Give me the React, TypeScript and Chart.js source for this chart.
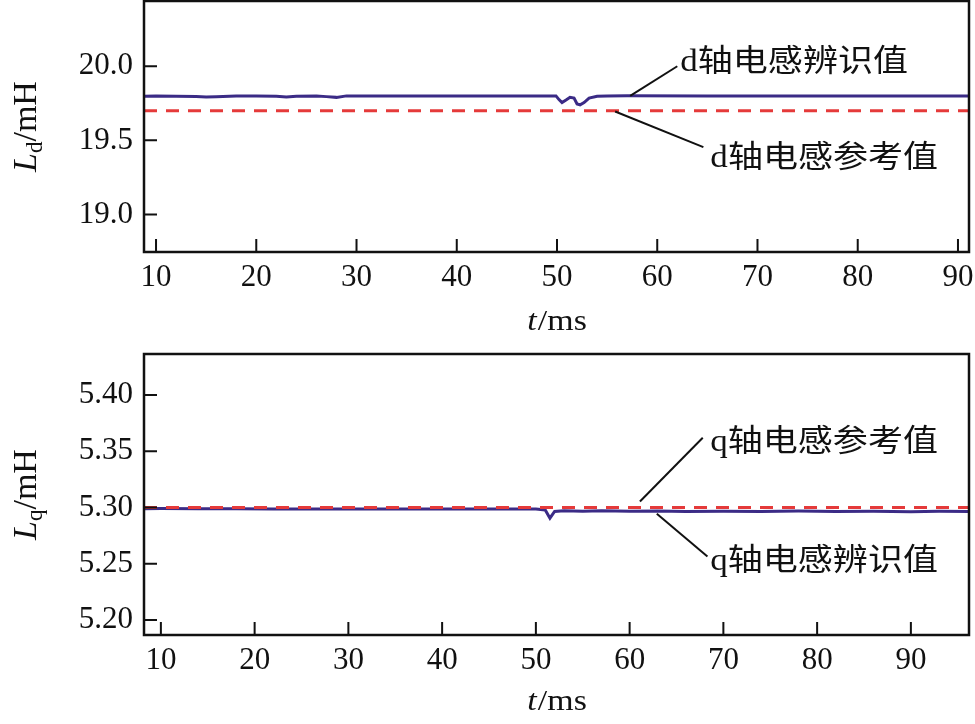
import React, { useEffect, useRef } from "react";
import { Chart, registerables } from "chart.js";

Chart.register(...registerables);

const SERIF = '"Liberation Serif", "Times New Roman", serif';
const MIXED = '"Liberation Serif", "Noto Sans CJK SC", serif';

// ---------- data (top: Ld) ----------
const ldTime = [8.8, 10, 12, 14, 15, 16, 18, 20, 22, 23, 24, 26, 27, 28, 29, 32, 40, 49.9, 50.2, 50.5, 50.9, 51.3, 51.7, 52.0, 52.3, 52.7, 53.2, 54.0, 55, 57, 65, 80, 91.1];
const ldIdent = [19.798, 19.8, 19.797, 19.796, 19.793, 19.795, 19.8, 19.8, 19.797, 19.793, 19.798, 19.799, 19.795, 19.79, 19.8, 19.8, 19.8, 19.8, 19.775, 19.755, 19.772, 19.79, 19.785, 19.745, 19.74, 19.755, 19.785, 19.798, 19.8, 19.801, 19.8, 19.8, 19.8];
const ldRefTime = [8.8, 91.1];
const ldRef = [19.7, 19.7];
const ldXRange = [8.8, 91.1];
const ldYRange = [18.747, 20.44];
const ldYTicks = [19.0, 19.5, 20.0];

// ---------- data (bottom: Lq) ----------
const lqTime = [8.2, 10, 14, 18, 22, 26, 30, 35, 40, 45, 50, 51, 51.5, 52, 53, 55, 57, 60, 63, 66, 70, 74, 78, 82, 86, 90, 93, 96.2];
const lqIdent = [5.2988, 5.299, 5.2989, 5.2988, 5.2986, 5.2987, 5.2986, 5.2987, 5.2986, 5.2987, 5.2987, 5.2978, 5.2905, 5.2965, 5.2972, 5.2967, 5.297, 5.2966, 5.2969, 5.2965, 5.2967, 5.2964, 5.2968, 5.2965, 5.2967, 5.2963, 5.2966, 5.2964];
const lqRefTime = [8.2, 96.2];
const lqRef = [5.3, 5.3];
const lqXRange = [8.2, 96.2];
const lqYRange = [5.1867, 5.4364];
const lqYTicks = [5.2, 5.25, 5.3, 5.35, 5.4];

const xTicks = [10, 20, 30, 40, 50, 60, 70, 80, 90];

// annotation anchors in data coordinates
const ldNotes = [
  { text: "d轴电感辨识值", from: [57.3, 19.8], to: [62.0, 20.0], at: [62.3, 20.02] },
  { text: "d轴电感参考值", from: [55.8, 19.695], to: [64.6, 19.454], at: [65.3, 19.378] },
];
const lqNotes = [
  { text: "q轴电感参考值", from: [61.1, 5.3053], to: [67.8, 5.362], at: [68.6, 5.3575] },
  { text: "q轴电感辨识值", from: [62.9, 5.2944], to: [68.3, 5.2564], at: [68.6, 5.252] },
];

const NAVY = "#3b2b86";
const RED = "#e53a3a";
const STRETCH = 1.13;

const decoPlugin = {
  id: "deco",
  afterDraw(chart: any, _args: any, o: any) {
    const { ctx, chartArea: a, scales } = chart;
    const xs = scales.x;
    const ys = scales.y;
    ctx.save();
    // frame
    ctx.strokeStyle = "#111";
    ctx.lineWidth = 2.5;
    ctx.strokeRect(a.left, a.top, a.right - a.left, a.bottom - a.top);
    // inward ticks
    ctx.lineWidth = 2;
    ctx.beginPath();
    xs.ticks.forEach((t: any) => {
      const p = xs.getPixelForValue(t.value);
      ctx.moveTo(p, a.bottom);
      ctx.lineTo(p, a.bottom - 13);
    });
    ys.ticks.forEach((t: any) => {
      const p = ys.getPixelForValue(t.value);
      ctx.moveTo(a.left, p);
      ctx.lineTo(a.left + 13, p);
    });
    ctx.stroke();

    ctx.fillStyle = "#111";
    // x title: t/ms
    {
      ctx.textBaseline = "middle";
      ctx.textAlign = "left";
      const f1 = `italic 30px ${SERIF}`;
      const f2 = `30px ${SERIF}`;
      ctx.font = f1;
      const w1 = ctx.measureText("t").width;
      ctx.font = f2;
      const w2 = ctx.measureText("/ms").width;
      const total = (w1 + w2) * STRETCH;
      const cx = (a.left + a.right) / 2;
      const y = a.bottom + o.xTitleOffset;
      ctx.save();
      ctx.translate(cx - total / 2, y);
      ctx.scale(STRETCH, 1);
      ctx.font = f1;
      ctx.fillText("t", 0, 0);
      ctx.font = f2;
      ctx.fillText("/ms", w1 + 1, 0);
      ctx.restore();
    }
    // y title: L_sub/mH
    {
      const fL = `italic 34px ${SERIF}`;
      const fS = `23px ${SERIF}`;
      const fR = `34px ${SERIF}`;
      ctx.font = fL;
      const wL = ctx.measureText("L").width;
      ctx.font = fS;
      const wS = ctx.measureText(o.sub).width;
      ctx.font = fR;
      const wR = ctx.measureText("/mH").width;
      const total = wL + wS + wR;
      const cy = (a.top + a.bottom) / 2;
      ctx.save();
      ctx.translate(o.yTitleX, cy);
      ctx.rotate(-Math.PI / 2);
      ctx.textBaseline = "alphabetic";
      ctx.textAlign = "left";
      let x = -total / 2;
      ctx.font = fL;
      ctx.fillText("L", x, 0);
      x += wL;
      ctx.font = fS;
      ctx.fillText(o.sub, x, 6);
      x += wS;
      ctx.font = fR;
      ctx.fillText("/mH", x, 0);
      ctx.restore();
    }
    // annotations
    ctx.lineWidth = 2;
    ctx.strokeStyle = "#111";
    (o.notes || []).forEach((n: any) => {
      const x1 = xs.getPixelForValue(n.from[0]);
      const y1 = ys.getPixelForValue(n.from[1]);
      const x2 = xs.getPixelForValue(n.to[0]);
      const y2 = ys.getPixelForValue(n.to[1]);
      ctx.beginPath();
      ctx.moveTo(x1, y1);
      ctx.lineTo(x2, y2);
      ctx.stroke();
      const tx = xs.getPixelForValue(n.at[0]);
      const ty = ys.getPixelForValue(n.at[1]);
      ctx.save();
      ctx.translate(tx, ty);
      ctx.scale(STRETCH, 1);
      ctx.font = `31px ${MIXED}`;
      ctx.textBaseline = "middle";
      ctx.textAlign = "left";
      ctx.fillText(n.text, 0, 0);
      ctx.restore();
    });
    ctx.restore();
  },
};

function makeConfig(p: any) {
  return {
    type: "line",
    data: {
      datasets: [
        {
          data: p.refT.map((t: number, i: number) => ({ x: t, y: p.ref[i] })),
          borderColor: RED,
          borderWidth: 3,
          borderDash: [13, 9],
          pointRadius: 0,
          tension: 0,
          fill: false,
        },
        {
          data: p.t.map((t: number, i: number) => ({ x: t, y: p.v[i] })),
          borderColor: NAVY,
          borderWidth: 3,
          pointRadius: 0,
          tension: 0,
          fill: false,
        },
      ],
    },
    options: {
      animation: false,
      responsive: false,
      events: [],
      layout: { autoPadding: false, padding: p.padding },
      plugins: {
        legend: { display: false },
        tooltip: { enabled: false },
        deco: {
          notes: p.notes,
          sub: p.sub,
          xTitleOffset: p.xTitleOffset,
          yTitleX: p.yTitleX,
        },
      },
      scales: {
        x: {
          type: "linear",
          min: p.xRange[0],
          max: p.xRange[1],
          border: { display: false },
          grid: { display: false, drawTicks: false },
          afterBuildTicks: (s: any) => {
            s.ticks = xTicks.map((v) => ({ value: v }));
          },
          afterFit: (s: any) => {
            s.height = 50;
            s.paddingLeft = 0;
            s.paddingRight = 0;
            s.paddingTop = 0;
            s.paddingBottom = 0;
          },
          ticks: {
            autoSkip: false,
            maxRotation: 0,
            padding: 7,
            color: "#111",
            font: { family: SERIF, size: 31 },
            callback: (v: number) => String(v),
          },
        },
        y: {
          type: "linear",
          min: p.yRange[0],
          max: p.yRange[1],
          border: { display: false },
          grid: { display: false, drawTicks: false },
          afterBuildTicks: (s: any) => {
            s.ticks = p.yTicks.map((v: number) => ({ value: v }));
          },
          afterFit: (s: any) => {
            s.width = 144;
            s.paddingLeft = 0;
            s.paddingRight = 0;
            s.paddingTop = 0;
            s.paddingBottom = 0;
          },
          ticks: {
            padding: 11,
            color: "#111",
            font: { family: SERIF, size: 31 },
            callback: (v: number) => Number(v).toFixed(p.decimals),
          },
        },
      },
    },
    plugins: [decoPlugin],
  } as any;
}

function Panel(props: { cfg: any; top: number; height: number }) {
  const ref = useRef<HTMLCanvasElement>(null);
  useEffect(() => {
    const c = new Chart(ref.current as HTMLCanvasElement, makeConfig(props.cfg));
    return () => c.destroy();
  }, []);
  return (
    <canvas
      ref={ref}
      width={975}
      height={props.height}
      style={{ position: "absolute", left: 0, top: props.top, width: 975, height: props.height }}
    />
  );
}

export default function App() {
  const topCfg = {
    t: ldTime,
    v: ldIdent,
    refT: ldRefTime,
    ref: ldRef,
    xRange: ldXRange,
    yRange: ldYRange,
    yTicks: ldYTicks,
    decimals: 1,
    notes: ldNotes,
    sub: "d",
    padding: { top: 1, left: 0, right: 6, bottom: 43 },
    xTitleOffset: 70,
    yTitleX: 36,
  };
  const botCfg = {
    t: lqTime,
    v: lqIdent,
    refT: lqRefTime,
    ref: lqRef,
    xRange: lqXRange,
    yRange: lqYRange,
    yTicks: lqYTicks,
    decimals: 2,
    notes: lqNotes,
    sub: "q",
    padding: { top: 9, left: 0, right: 6, bottom: 39 },
    xTitleOffset: 67,
    yTitleX: 36,
  };
  return (
    <div style={{ position: "fixed", left: 0, top: 0, width: 975, height: 724, background: "#fff" }}>
      <Panel cfg={topCfg} top={0} height={345} />
      <Panel cfg={botCfg} top={345} height={379} />
    </div>
  );
}
